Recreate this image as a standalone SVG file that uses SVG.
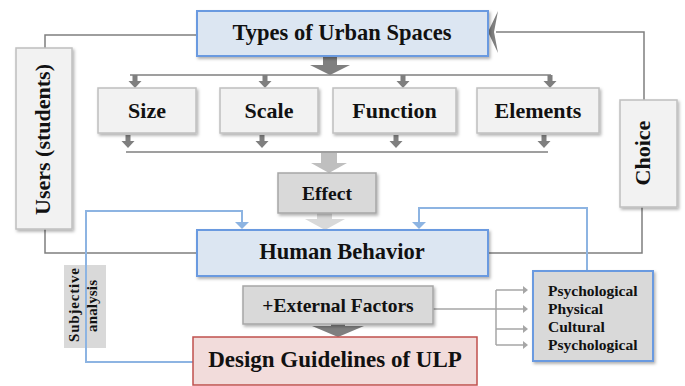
<svg xmlns="http://www.w3.org/2000/svg" width="685" height="386" viewBox="0 0 685 386">
<defs>
<filter id="sh" x="-10%" y="-10%" width="125%" height="130%">
<feDropShadow dx="1.5" dy="2" stdDeviation="1.5" flood-color="#000" flood-opacity="0.3"/>
</filter>
<path id="sa" d="M-2.5,0 h5 v6 h4 l-6.5,7 l-6.5,-7 h4 z" fill="#7f7f7f"/>
<path id="ga" d="M0,-4 L5,0 L0,4 z" fill="#a6a6a6"/>
</defs>
<style>
text{font-family:"Liberation Serif","Times New Roman",serif;font-weight:bold;fill:#111;text-anchor:middle}
.blue{fill:#dce6f2;stroke:#6a9ae0;stroke-width:2}
.light{fill:#f2f2f2;stroke:#bfbfbf;stroke-width:1.5}
.mid{fill:#d9d9d9;stroke:#a6a6a6;stroke-width:1.5}
.red{fill:#f2dcdb;stroke:#c0504d;stroke-width:1.5}
.ln{fill:none;stroke:#7f7f7f;stroke-width:1.5}
.bl{fill:none;stroke:#8db4e2;stroke-width:2}
.gl{fill:none;stroke:#a6a6a6;stroke-width:1.5}
.big{font-size:22.5px}
.med{font-size:22px}
</style>
<g id="connectors">
<polyline class="ln" points="197,35 45,35 45,48"/>
<polyline class="ln" points="45,229 45,253 197,253"/>
<polyline class="ln" points="644,100 644,32 496,32"/>
<path d="M488,32 L498,11 L494,32 L498,53 Z" fill="#7f7f7f"/>
<polyline class="ln" points="488,253 642,253 642,207"/>
<path d="M323,56 h14 v9 h13 l-20,10 l-20,-10 h13 z" fill="#7f7f7f"/>
<line class="ln" x1="130" y1="75" x2="551" y2="75"/>
<use href="#sa" x="135" y="75"/>
<use href="#sa" x="265" y="75"/>
<use href="#sa" x="403" y="75"/>
<use href="#sa" x="550" y="75"/>
<use href="#sa" x="128" y="135"/>
<use href="#sa" x="262" y="135"/>
<use href="#sa" x="396" y="135"/>
<use href="#sa" x="544" y="135"/>
<line class="ln" x1="126" y1="152" x2="548" y2="152"/>
<path d="M321,153 h16 v10 h10 l-18,10 l-18,-10 h10 z" fill="#bfbfbf"/>
<path d="M317,213 h15 v6 h13 l-20,11 l-20,-11 h12 z" fill="#d9d9d9"/>
<path d="M331,324 h14 v2 h19 l-26,11 l-26,-11 h19 z" fill="#7f7f7f"/>
<polyline class="bl" points="193,362 86,362 86,211 242,211 242,224"/>
<path d="M235,222 L249,222 L242,229 Z" fill="#8db4e2"/>
<polyline class="bl" points="587,271 587,208 419,208 419,224"/>
<path d="M412,222 L426,222 L419,229 Z" fill="#8db4e2"/>
<line class="gl" x1="433" y1="309" x2="524" y2="309"/>
<line class="gl" x1="496" y1="290" x2="496" y2="345"/>
<line class="gl" x1="496" y1="290" x2="524" y2="290"/>
<line class="gl" x1="496" y1="329" x2="524" y2="329"/>
<line class="gl" x1="496" y1="345" x2="524" y2="345"/>
<use href="#ga" x="523" y="290"/>
<use href="#ga" x="523" y="309"/>
<use href="#ga" x="523" y="329"/>
<use href="#ga" x="523" y="345"/>
</g>
<g id="types">
<rect class="blue" x="197" y="11" width="291" height="45" filter="url(#sh)"/>
<text class="big" x="342" y="40">Types of Urban Spaces</text>
</g>
<g id="size">
<rect class="light" x="98" y="88" width="98" height="45" filter="url(#sh)"/>
<text class="med" x="147" y="118">Size</text>
</g>
<g id="scale">
<rect class="light" x="220" y="88" width="98" height="45" filter="url(#sh)"/>
<text class="med" x="269" y="118">Scale</text>
</g>
<g id="function">
<rect class="light" x="333" y="88" width="123" height="45" filter="url(#sh)"/>
<text class="med" x="394.5" y="118">Function</text>
</g>
<g id="elements">
<rect class="light" x="477" y="88" width="122" height="45" filter="url(#sh)"/>
<text class="med" x="538" y="118">Elements</text>
</g>
<g id="effect">
<rect class="mid" x="278" y="173" width="98" height="40" filter="url(#sh)"/>
<text x="327" y="200" style="font-size:19.5px">Effect</text>
</g>
<g id="users">
<rect class="light" x="16" y="48" width="56" height="181" filter="url(#sh)"/>
<text class="med" transform="translate(50,139.5) rotate(-90)">Users (students)</text>
</g>
<g id="choice">
<rect class="light" x="620" y="100" width="57" height="107" filter="url(#sh)"/>
<text class="med" transform="translate(650,153) rotate(-90)">Choice</text>
</g>
<g id="human">
<rect class="blue" x="197" y="230" width="291" height="46" filter="url(#sh)"/>
<text class="big" x="342" y="259">Human Behavior</text>
</g>
<g id="external">
<rect class="mid" x="243" y="286" width="190" height="38" filter="url(#sh)"/>
<text x="338" y="312" style="font-size:19.5px">+External Factors</text>
</g>
<g id="design">
<rect class="red" x="193" y="337" width="284" height="48"/>
<text x="335" y="367" style="font-size:23px">Design Guidelines of ULP</text>
</g>
<g id="subjective">
<rect x="64" y="265" width="42" height="83" fill="#d9d9d9"/>
<line class="bl" x1="86" y1="265" x2="86" y2="348"/>
<text transform="translate(79,305) rotate(-90)" style="font-size:15px" textLength="74" lengthAdjust="spacing">Subjective</text>
<text transform="translate(97,306) rotate(-90)" style="font-size:15px" textLength="52" lengthAdjust="spacing">analysis</text>
</g>
<g id="factors">
<rect x="533" y="271" width="120" height="90" fill="#d9d9d9" stroke="#6a9ae0" stroke-width="2" filter="url(#sh)"/>
<text x="548" y="296" style="font-size:15.5px;text-anchor:start">Psychological</text>
<text x="548" y="314" style="font-size:15.5px;text-anchor:start">Physical</text>
<text x="548" y="332" style="font-size:15.5px;text-anchor:start">Cultural</text>
<text x="548" y="350" style="font-size:15.5px;text-anchor:start">Psychological</text>
</g>
</svg>
